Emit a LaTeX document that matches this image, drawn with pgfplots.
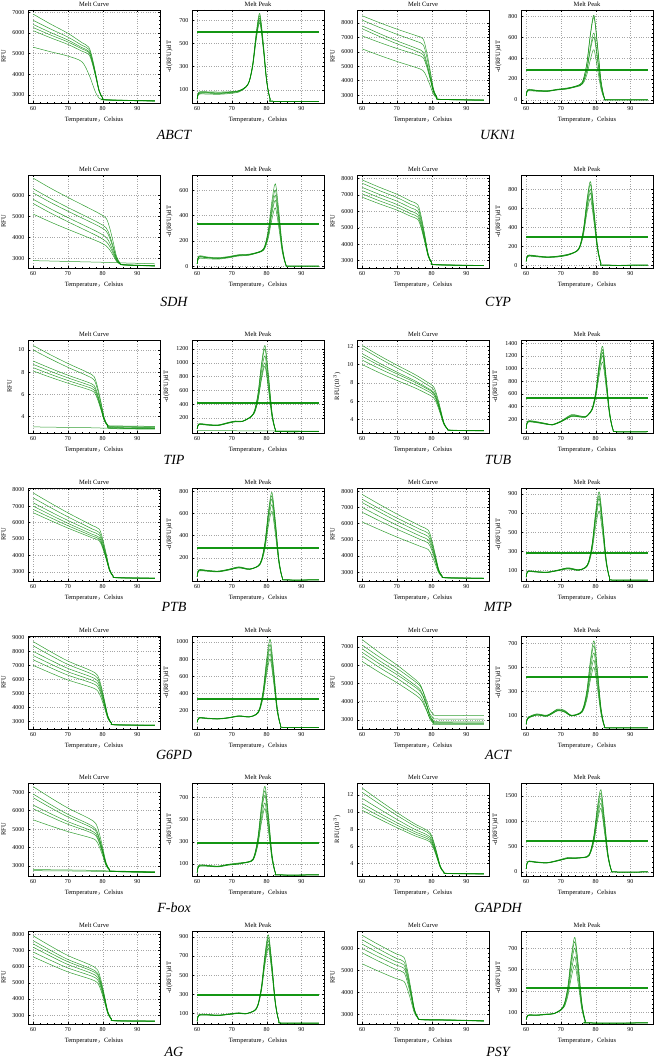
\documentclass[border=0pt]{standalone}
\usepackage{fontspec}
\setmainfont{Liberation Serif}
\newfontfamily\cjk{Noto Sans CJK SC}
\usepackage{pgfplots}
\usepackage{pgfplotstable}
\pgfplotsset{compat=1.18}
\definecolor{pcr}{RGB}{0,135,0}
\definecolor{thrc}{RGB}{20,150,20}

\pgfplotsset{
  base/.style={
    scale only axis, width=132pt, height=93pt, anchor=north west,
    xmin=58.5, xmax=96.5, xtick={60,70,80,90},
    minor x tick num=4, minor y tick num=4,
    tick align=inside, major tick length=2pt, minor tick length=1.1pt,
    grid=major, grid style={dotted, gray!70, line width=0.35pt},
    axis line style={line width=0.6pt},
    every tick/.style={black, line width=0.3pt},
    ticklabel style={font=\fontsize{6}{7}\selectfont},
    title style={font=\fontsize{6.5}{7}\selectfont, inner sep=1pt, yshift=-4pt},
    label style={font=\fontsize{6.5}{7}\selectfont},
    xlabel={Temperature{\cjk ，}Celsius},
    /pgf/number format/1000 sep={},
    /pgf/number format/assume math mode=true,
    scaled y ticks=false,
  },
  mc/.style={base, title={Melt Curve}, ylabel={RFU}},
  mp/.style={base, title={Melt Peak}, ylabel={-d(RFU)/dT}},
  curve/.style={pcr, line width=0.5pt, smooth, tension=0.5, mark=none, opacity=0.8},
  thr/.style={thrc, line width=2pt, mark=none},
}
\newcommand\curves[2]{\pgfplotsinvokeforeach{#2}{\addplot[curve] table[x=x,y=##1]{#1};}}
\newcommand\gene[2]{\node[font=\fontsize{14}{16}\selectfont\itshape] at #1 {#2};}

\begin{document}

% ---------- melt curves ----------
\pgfplotstableread{
x a b c d e f
60 6900 6600 6400 6250 6100 5300
65 6420 6180 6010 5890 5755 5080
70 5972 5788 5646 5554 5433 4870
74 5524 5396 5282 5218 5111 4600
76 5300 5200 5100 5050 4950 4000
77 4790 4710 4630 4590 4510 3550
78 4025 3975 3925 3900 3850 3100
79 3209 3191 3173 3164 3146 2830
80 2852 2848 2844 2842 2838 2760
81 2750 2760 2745 2755 2740 2750
95 2700 2710 2690 2705 2695 2700
}\tABCTmc
\pgfplotstableread{
x a b c d e f
60 8500 8200 7800 7600 7100 6200
65 8020 7690 7260 7060 6650 5750
70 7572 7214 6756 6556 6230 5330
75.5 7124 6738 6252 6052 5810 4910
77.5 6900 6500 6000 5800 5600 4700
78.5 6060 5740 5340 5180 5020 4300
79.5 4800 4600 4350 4250 4150 3700
80.5 3456 3384 3294 3258 3222 3060
81.5 2868 2852 2832 2824 2816 2780
82.5 2700 2710 2695 2705 2700 2690
95 2650 2660 2645 2655 2650 2640
}\tUKNmc
\pgfplotstableread{
x a b c d e f g
60 6800 6300 6100 5800 5600 5100 2900
65 6325 5838 5650 5350 5150 4725 2880
70 5888 5412 5236 4936 4736 4380 2860
75 5470 5005 4840 4540 4340 4050 2840
79 5128 4672 4516 4216 4016 3780 2825
81 4900 4450 4300 4000 3800 3600 2815
82 4460 4100 3980 3740 3580 3420 2810
83 3800 3575 3500 3350 3250 3150 2805
84 3096 3015 2988 2934 2898 2862 2800
85 2788 2770 2764 2752 2744 2736 2795
86 2700 2710 2695 2705 2700 2690 2790
95 2650 2660 2645 2655 2650 2640 2750
}\tSDHmc
\pgfplotstableread{
x a b c d e f
60 7900 7700 7450 7250 7050 6850
65 7450 7250 7015 6815 6630 6445
70 7030 6830 6609 6409 6238 6067
74 6610 6410 6203 6003 5846 5689
76 6400 6200 6000 5800 5650 5500
77 5670 5510 5350 5190 5070 4950
78 4575 4475 4375 4275 4200 4125
79 3407 3371 3335 3299 3272 3245
80 2896 2888 2880 2872 2866 2860
81 2750 2760 2745 2755 2740 2750
95 2700 2710 2690 2705 2695 2700
}\tCYPmc
\pgfplotstableread{
x a b c d e f g
60 10.4 10.0 9.0 8.7 8.4 8.1 3.05
65 9.56 9.19 8.34 8.07 7.8 7.53 3.03
70 8.78 8.43 7.72 7.48 7.24 7.0 3.0
75.5 7.99 7.68 7.11 6.89 6.68 6.47 2.98
77.5 7.6 7.3 6.8 6.6 6.4 6.2 2.97
78.5 6.68 6.44 6.04 5.88 5.72 5.56 2.96
79.5 5.3 5.15 4.9 4.8 4.7 4.6 2.95
80.5 3.83 3.77 3.68 3.65 3.61 3.58 2.95
81.5 3.18 3.2 3.15 3.17 3.22 3.1 2.94
82.5 3.0 3.1 2.95 3.05 3.15 2.9 2.94
95 2.95 3.05 2.9 3.0 3.1 2.85 2.9
}\tTIPmc
\pgfplotstableread{
x a b c d e f
60 12.1 11.8 11.2 10.9 10.5 10.0
65 10.98 10.68 10.15 9.9 9.55 9.1
70 9.94 9.64 9.18 8.98 8.68 8.27
75 8.95 8.65 8.26 8.1 7.84 7.48
78.5 8.14 7.84 7.5 7.38 7.16 6.83
80.5 7.6 7.3 7.0 6.9 6.7 6.4
81.5 6.64 6.4 6.16 6.08 5.92 5.68
82.5 5.2 5.05 4.9 4.85 4.75 4.6
83.5 3.66 3.61 3.56 3.54 3.5 3.45
84.5 2.99 2.98 2.97 2.96 2.96 2.94
85.5 2.8 2.82 2.78 2.81 2.79 2.8
95 2.75 2.77 2.73 2.76 2.74 2.75
}\tTUBmc
\pgfplotstableread{
x a b c d e f
60 7800 7500 7200 7000 6800 6600
65 7184 6912 6654 6468 6296 6124
70 6590 6345 6128 5955 5810 5665
75 6040 5820 5640 5480 5360 5240
77 5820 5610 5445 5290 5180 5070
79 5600 5400 5250 5100 5000 4900
80 5010 4850 4730 4610 4530 4450
81 4125 4025 3950 3875 3825 3775
82 3181 3145 3118 3091 3073 3055
83 2768 2760 2754 2748 2744 2740
84 2650 2660 2645 2655 2640 2650
95 2620 2630 2615 2625 2610 2620
}\tPTBmc
\pgfplotstableread{
x a b c d e f
60 7800 7500 7300 7000 6700 6100
65 7184 6912 6712 6440 6168 5624
70 6590 6345 6145 5900 5655 5165
75 6040 5820 5620 5400 5180 4740
77 5820 5610 5410 5200 4990 4570
79 5600 5400 5200 5000 4800 4400
80 5010 4850 4690 4530 4370 4050
81 4125 4025 3925 3825 3725 3525
82 3181 3145 3109 3073 3037 2965
83 2768 2760 2752 2744 2736 2720
84 2650 2660 2645 2655 2640 2650
95 2620 2630 2615 2625 2610 2620
}\tMTPmc
\pgfplotstableread{
x a b c d e f
60 8700 8400 8000 7700 7400 7000
65 7980 7710 7370 7100 6830 6460
70 7308 7066 6782 6540 6298 5956
76.5 6636 6422 6194 5980 5766 5452
78.5 6300 6100 5900 5700 5500 5200
79.5 5590 5430 5270 5110 4950 4710
80.5 4525 4425 4325 4225 4125 3975
81.5 3389 3353 3317 3281 3245 3191
82.5 2892 2884 2876 2868 2860 2848
83.5 2750 2760 2745 2755 2740 2750
95 2720 2730 2715 2725 2710 2720
}\tGPDmc
\pgfplotstableread{
x a b c d e f
60 7400 7100 6900 6700 6500 6200
65 6680 6440 6240 6070 5870 5600
70 6008 5824 5624 5482 5282 5040
74.5 5336 5208 5008 4894 4694 4480
76.5 5000 4900 4700 4600 4400 4200
77.5 4560 4570 4340 4290 4070 3930
78.5 3900 4075 3800 3825 3575 3525
79.5 3196 3547 3224 3329 3047 3093
80.5 2888 3316 2972 3112 2816 2904
81.5 2800 3250 2900 3050 2750 2850
95 2790 3240 2890 3040 2740 2840
}\tACTmc
\pgfplotstableread{
x a b c d e f g h
60 7300 6900 6700 6300 6100 5500 2800 2740
65 6700 6330 6160 5835 5665 5170 2790 2732
70 6140 5798 5656 5401 5259 4862 2780 2725
76 5580 5266 5152 4967 4853 4554 2760 2710
78 5300 5000 4900 4750 4650 4400 2750 2705
79 4780 4540 4460 4340 4260 4060 2745 2700
80 4000 3850 3800 3725 3675 3550 2740 2698
81 3168 3114 3096 3069 3051 3006 2735 2695
82 2804 2792 2788 2782 2778 2768 2730 2692
83 2700 2710 2695 2705 2690 2700 2725 2690
95 2660 2670 2655 2665 2650 2660 2670 2640
}\tFBOXmc
\pgfplotstableread{
x a b c d e f
60 12.8 12.3 11.6 11.0 10.6 10.2
65 11.34 10.93 10.34 9.85 9.51 9.16
70 9.94 9.6 9.13 8.75 8.46 8.17
75 8.64 8.38 8.0 7.72 7.48 7.24
77.5 8.12 7.89 7.55 7.31 7.09 6.87
79.5 7.6 7.4 7.1 6.9 6.7 6.5
80.5 6.64 6.48 6.24 6.08 5.92 5.76
81.5 5.2 5.1 4.95 4.85 4.75 4.65
82.5 3.66 3.63 3.57 3.54 3.5 3.47
83.5 2.99 2.98 2.97 2.96 2.96 2.95
84.5 2.8 2.82 2.78 2.81 2.79 2.8
95 2.75 2.77 2.73 2.76 2.74 2.75
}\tGAPDHmc
\pgfplotstableread{
x a b c d e f
60 7900 7600 7400 7200 6900 6600
65 7270 7000 6830 6645 6390 6120
70 6682 6440 6298 6127 5914 5672
76.5 6094 5880 5766 5609 5438 5224
78.5 5800 5600 5500 5350 5200 5000
79.5 5170 5010 4930 4810 4690 4530
80.5 4225 4125 4075 4000 3925 3825
81.5 3217 3181 3163 3136 3109 3073
82.5 2776 2768 2764 2758 2752 2744
83.5 2650 2660 2645 2655 2640 2650
95 2630 2640 2625 2635 2620 2630
}\tAGmc
\pgfplotstableread{
x a b c d e f
60 6600 6400 6200 6000 5800 5300
64 6240 6040 5858 5676 5476 5012
68 5900 5700 5535 5370 5170 4740
70 5740 5540 5383 5226 5026 4612
72 5600 5400 5250 5100 4900 4500
73 5030 4870 4750 4630 4470 4150
74 4175 4075 4000 3925 3825 3625
75 3263 3227 3200 3173 3137 3065
76 2864 2856 2850 2844 2836 2820
77 2750 2760 2745 2755 2740 2750
85 2730 2740 2725 2735 2720 2730
95 2690 2700 2685 2695 2680 2690
}\tPSYmc

% ---------- melt peaks ----------
\pgfplotstableread{
x a b c d e
60 20 20 25 15 20
60.5 75 65 80 60 70
63 78 70 82 62 74
66 72 66 80 60 70
69 78 72 82 66 76
72 90 85 92 80 88
74 126 124 125 120 123
75 179 175 174 172 170
76 331 324 317 310 303
77 595 580 565 550 535
78 760 740 720 700 680
79 512 498 484 470 456
80 185 180 175 170 165
81 20 19 19 18 17
82 0 0 0 0 0
95 0 0 0 0 0
}\tABCTmp
\pgfplotstableread{
x a b c d e
60 40 45 35 40 38
60.5 95 100 85 90 92
63 90 92 82 88 86
66 88 85 80 84 82
69 100 98 95 102 96
72 112 110 105 115 108
75.5 148 147 141 139 134
76.5 203 200 182 178 163
77.5 362 355 302 288 246
78.5 638 623 510 480 390
79.5 810 790 640 600 480
80.5 533 519 414 386 302
81.5 193 188 150 140 110
82.5 21 20 16 14 11
83.5 0 0 0 0 0
95 0 0 0 0 0
}\tUKNmp
\pgfplotstableread{
x a b c d e
60 20 18 22 15 20
60.5 75 70 80 60 72
63 68 65 72 58 66
66 62 60 66 55 62
69 72 70 76 65 70
72 88 85 90 80 84
75 92 90 95 86 90
78.5 122 120 118 117 114
79.5 166 160 155 150 143
80.5 293 275 261 247 226
81.5 513 475 445 415 370
82.5 650 600 560 520 460
83.5 435 400 372 344 302
84.5 158 145 135 125 110
85.5 17 15 14 13 11
86.5 0 0 0 0 0
95 0 0 0 0 0
}\tSDHmp
\pgfplotstableread{
x a b c d e
60 40 45 38 42 36
60.5 100 105 95 102 92
63 95 98 90 96 88
66 85 88 82 86 80
69 92 95 88 94 86
72 110 112 106 115 105
74.5 150 149 147 146 143
75.5 211 208 202 197 190
76.5 386 376 358 344 323
77.5 690 668 630 600 555
78.5 880 850 800 760 700
79.5 582 561 526 498 456
80.5 210 203 190 180 165
81.5 23 22 20 19 17
82.5 0 0 0 0 0
95 0 0 0 0 0
}\tCYPmp
\pgfplotstableread{
x a b c d e
60 40 45 35 40 42
60.5 115 110 105 100 108
63 105 100 96 94 98
66 98 95 90 88 92
69 135 130 126 122 128
71 155 150 146 142 148
73 152 150 148 145 150
75.5 223 221 217 213 211
76.5 308 302 290 278 272
77.5 555 537 502 467 450
78.5 983 945 870 795 758
79.5 1250 1200 1100 1000 950
80.5 829 794 724 654 619
81.5 298 285 260 235 223
82.5 32 31 28 25 23
83.5 0 0 0 0 0
95 0 0 0 0 0
}\tTIPmp
\pgfplotstableread{
x a b c d e
60 50 55 45 50 48
60.5 165 160 150 170 155
63 155 150 142 160 148
66 125 120 115 128 118
67.5 112 110 105 115 108
70 165 160 155 170 158
73 260 250 240 270 245
75 250 242 235 255 238
77 238 232 228 240 230
78 284 282 280 278 274
79 373 367 361 355 343
80 629 611 594 576 541
81 1073 1035 998 960 885
82 1350 1300 1250 1200 1100
83 877 842 807 772 702
84 318 305 293 280 255
85 33 32 30 29 26
86 0 0 0 0 0
95 0 0 0 0 0
}\tTUBmp
\pgfplotstableread{
x a b c d e
60 30 32 28 35 30
60.5 85 90 80 92 82
63 82 84 78 86 80
66 76 78 72 80 74
69 92 95 88 96 90
72 112 115 108 118 110
75 96 98 94 100 96
77.5 128 126 125 123 121
78.5 183 179 176 170 162
79.5 342 331 321 303 282
80.5 618 595 573 535 490
81.5 790 760 730 680 620
82.5 533 512 491 456 414
83.5 193 185 178 165 150
84.5 21 20 19 17 16
85.5 0 0 0 0 0
95 0 0 0 0 0
}\tPTBmp
\pgfplotstableread{
x a b c d e
60 30 32 28 35 30
60.5 90 95 85 92 88
63 86 88 82 87 84
66 80 82 78 84 79
69 100 104 98 102 96
72 125 122 118 128 116
75 106 104 102 108 100
77 133 131 130 128 125
78 198 194 190 184 174
79 387 373 363 345 317
80 715 685 663 625 565
81 920 880 850 800 720
82 624 596 575 540 484
83 225 215 208 195 175
84 25 23 23 21 19
85 0 0 0 0 0
95 0 0 0 0 0
}\tMTPmp
\pgfplotstableread{
x a b c d e
60 60 65 55 62 58
60.5 110 115 105 112 108
63 105 108 100 106 103
66 100 102 96 100 98
69 112 115 108 112 110
72 132 135 128 134 130
75 122 124 120 123 121
77 156 154 152 150 147
78 229 222 216 209 202
79 438 418 400 379 358
80 803 758 720 675 630
81 1030 970 920 860 800
82 687 645 610 568 526
83 248 233 220 205 190
84 27 26 24 22 20
85 0 0 0 0 0
95 0 0 0 0 0
}\tGPDmp
\pgfplotstableread{
x a b c d e
60 30 35 28 32 30
60.5 85 80 75 82 78
63 115 108 105 112 106
66 105 100 95 102 98
69 150 145 140 155 142
71 140 135 130 145 132
73 105 100 98 102 99
75.5 125 123 121 118 116
76.5 174 170 162 155 148
77.5 317 303 282 261 240
78.5 565 535 490 445 400
79.5 720 680 620 560 500
80.5 484 456 414 372 330
81.5 175 165 150 135 120
82.5 19 17 16 14 12
83.5 0 0 0 0 0
95 0 0 0 0 0
}\tACTmp
\pgfplotstableread{
x a b c d e
60 20 22 18 25 20
60.5 80 85 75 88 78
63 82 84 78 86 80
66 76 78 72 80 74
69 92 95 88 96 90
72 102 105 98 108 100
75.5 128 126 125 122 120
76.5 184 179 174 166 160
77.5 345 331 317 293 275
78.5 625 595 565 513 475
79.5 800 760 720 650 600
80.5 540 512 484 435 400
81.5 195 185 175 158 145
82.5 21 20 19 17 15
83.5 0 0 0 0 0
95 0 0 0 0 0
}\tFBOXmp
\pgfplotstableread{
x a b c d e
60 60 65 55 62 58
60.5 205 200 195 210 198
63 195 190 185 198 188
66 182 180 175 185 178
69 225 220 215 230 218
72 275 270 265 285 268
74 272 270 265 280 268
77.5 305 302 298 294 290
78.5 414 406 394 382 370
79.5 730 705 670 635 600
80.5 1278 1225 1150 1075 1000
81.5 1620 1550 1450 1350 1250
82.5 1059 1010 940 870 800
83.5 383 365 340 315 290
84.5 41 39 36 33 30
85.5 0 0 0 0 0
95 0 0 0 0 0
}\tGAPDHmp
\pgfplotstableread{
x a b c d e
60 20 22 18 24 20
60.5 80 85 78 88 82
63 85 88 82 90 84
66 80 82 78 84 79
69 90 94 88 95 90
72 102 105 100 108 102
74 96 98 95 100 96
76.5 133 132 130 129 127
77.5 198 195 191 186 182
78.5 387 377 366 352 338
79.5 715 693 670 640 610
80.5 920 890 860 820 780
81.5 624 603 582 554 526
82.5 225 218 210 200 190
83.5 25 24 23 22 20
84.5 0 0 0 0 0
95 0 0 0 0 0
}\tAGmp
\pgfplotstableread{
x a b c d e
60 30 35 28 32 30
60.5 70 75 68 72 70
63 72 75 70 74 72
66 80 84 78 82 80
68 88 90 86 88 86
70 128 126 124 121 118
71 184 179 172 162 153
72 345 331 310 282 254
73 625 595 550 490 430
74 800 760 700 620 540
75 540 512 470 414 358
76 195 185 170 150 130
77 21 20 18 16 13
78 0 0 0 0 0
95 0 0 0 0 0
}\tPSYmp

\begin{tikzpicture}
\useasboundingbox (0pt,0pt) rectangle (659pt,-1062pt);

% row 1: ABCT, UKN1
\begin{axis}[mc, at={(28pt,-10pt)}, ymin=2600, ymax=7100, ytick={3000,4000,...,7000}]
\curves{\tABCTmc}{a,b,c,d,e,f}
\end{axis}
\begin{axis}[mp, at={(192pt,-10pt)}, ymin=-15, ymax=790, ytick={100,300,500,700}]
\addplot[thr] coordinates {(60,600) (95,600)};
\curves{\tABCTmp}{a,b,c,d,e}
\end{axis}
\begin{axis}[mc, at={(357pt,-10pt)}, ymin=2450, ymax=8900, ytick={3000,4000,...,8000}]
\curves{\tUKNmc}{a,b,c,d,e,f}
\end{axis}
\begin{axis}[mp, at={(521pt,-10pt)}, ymin=-30, ymax=860, ytick={0,200,...,800}]
\addplot[thr] coordinates {(60,290) (95,290)};
\curves{\tUKNmp}{a,b,c,d,e}
\end{axis}
\gene{(174pt,-135pt)}{ABCT}
\gene{(498pt,-135pt)}{UKN1}

% row 2: SDH, CYP
\begin{axis}[mc, at={(28pt,-175pt)}, ymin=2550, ymax=6950, ytick={3000,4000,...,6000}]
\curves{\tSDHmc}{a,b,c,d,e,f,g}
\end{axis}
\begin{axis}[mp, at={(192pt,-175pt)}, ymin=-15, ymax=720, ytick={0,200,400,600}]
\addplot[thr] coordinates {(60,335) (95,335)};
\curves{\tSDHmp}{a,b,c,d,e}
\end{axis}
\begin{axis}[mc, at={(357pt,-175pt)}, ymin=2550, ymax=8200, ytick={3000,4000,...,8000}]
\curves{\tCYPmc}{a,b,c,d,e,f}
\end{axis}
\begin{axis}[mp, at={(521pt,-175pt)}, ymin=-30, ymax=950, ytick={0,200,...,800}]
\addplot[thr] coordinates {(60,300) (95,300)};
\curves{\tCYPmp}{a,b,c,d,e}
\end{axis}
\gene{(174pt,-302pt)}{SDH}
\gene{(498pt,-302pt)}{CYP}

% row 3: TIP, TUB
\begin{axis}[mc, at={(28pt,-340pt)}, ymin=2.5, ymax=10.9, ytick={4,6,8,10}]
\curves{\tTIPmc}{a,b,c,d,e,f,g}
\end{axis}
\begin{axis}[mp, at={(192pt,-340pt)}, ymin=-20, ymax=1330, ytick={200,400,...,1200}]
\addplot[thr] coordinates {(60,420) (95,420)};
\addplot[curve] coordinates {(60,15) (95,8)};
\curves{\tTIPmp}{a,b,c,d,e}
\end{axis}
\begin{axis}[mc, at={(357pt,-340pt)}, ymin=2.5, ymax=12.7, ytick={4,6,...,12}, ylabel={RFU(10$^3$)}]
\curves{\tTUBmc}{a,b,c,d,e,f}
\end{axis}
\begin{axis}[mp, at={(521pt,-340pt)}, ymin=-20, ymax=1450, ytick={200,400,...,1400}]
\addplot[thr] coordinates {(60,540) (95,540)};
\curves{\tTUBmp}{a,b,c,d,e}
\end{axis}
\gene{(174pt,-460pt)}{TIP}
\gene{(498pt,-460pt)}{TUB}

% row 4: PTB, MTP
\begin{axis}[mc, at={(28pt,-488pt)}, ymin=2450, ymax=8100, ytick={3000,4000,...,8000}]
\curves{\tPTBmc}{a,b,c,d,e,f}
\end{axis}
\begin{axis}[mp, at={(192pt,-488pt)}, ymin=-10, ymax=830, ytick={200,400,600,800}]
\addplot[thr] coordinates {(60,290) (95,290)};
\curves{\tPTBmp}{a,b,c,d,e}
\end{axis}
\begin{axis}[mc, at={(357pt,-488pt)}, ymin=2450, ymax=8200, ytick={3000,4000,...,8000}]
\curves{\tMTPmc}{a,b,c,d,e,f}
\end{axis}
\begin{axis}[mp, at={(521pt,-488pt)}, ymin=-10, ymax=960, ytick={100,300,...,900}]
\addplot[thr] coordinates {(60,280) (95,280)};
\curves{\tMTPmp}{a,b,c,d,e}
\end{axis}
\gene{(174pt,-607pt)}{PTB}
\gene{(498pt,-607pt)}{MTP}

% row 5: G6PD, ACT
\begin{axis}[mc, at={(28pt,-636pt)}, ymin=2450, ymax=9100, ytick={3000,4000,...,9000}]
\curves{\tGPDmc}{a,b,c,d,e,f}
\end{axis}
\begin{axis}[mp, at={(192pt,-636pt)}, ymin=-20, ymax=1070, ytick={200,400,...,1000}]
\addplot[thr] coordinates {(60,330) (95,330)};
\curves{\tGPDmp}{a,b,c,d,e}
\end{axis}
\begin{axis}[mc, at={(357pt,-636pt)}, ymin=2500, ymax=7600, ytick={3000,4000,...,7000}]
\curves{\tACTmc}{a,b,c,d,e,f}
\end{axis}
\begin{axis}[mp, at={(521pt,-636pt)}, ymin=-10, ymax=760, ytick={100,300,500,700}]
\addplot[thr] coordinates {(60,420) (95,420)};
\curves{\tACTmp}{a,b,c,d,e}
\end{axis}
\gene{(174pt,-755pt)}{G6PD}
\gene{(498pt,-755pt)}{ACT}

% row 6: F-box, GAPDH
\begin{axis}[mc, at={(28pt,-783pt)}, ymin=2450, ymax=7500, ytick={3000,4000,...,7000}]
\curves{\tFBOXmc}{a,b,c,d,e,f,g,h}
\end{axis}
\begin{axis}[mp, at={(192pt,-783pt)}, ymin=-10, ymax=830, ytick={100,300,500,700}]
\addplot[thr] coordinates {(60,290) (95,290)};
\curves{\tFBOXmp}{a,b,c,d,e}
\end{axis}
\begin{axis}[mc, at={(357pt,-783pt)}, ymin=2.5, ymax=13.4, ytick={4,6,...,12}, ylabel={RFU(10$^3$)}]
\curves{\tGAPDHmc}{a,b,c,d,e,f}
\end{axis}
\begin{axis}[mp, at={(521pt,-783pt)}, ymin=-80, ymax=1750, ytick={0,500,1000,1500}]
\addplot[thr] coordinates {(60,600) (95,600)};
\curves{\tGAPDHmp}{a,b,c,d,e}
\end{axis}
\gene{(174pt,-908pt)}{F-box}
\gene{(498pt,-908pt)}{GAPDH}

% row 7: AG, PSY
\begin{axis}[mc, at={(28pt,-931pt)}, ymin=2450, ymax=8200, ytick={3000,4000,...,8000}]
\curves{\tAGmc}{a,b,c,d,e,f}
\end{axis}
\begin{axis}[mp, at={(192pt,-931pt)}, ymin=-10, ymax=960, ytick={100,300,...,900}]
\addplot[thr] coordinates {(60,290) (95,290)};
\curves{\tAGmp}{a,b,c,d,e}
\end{axis}
\begin{axis}[mc, at={(357pt,-931pt)}, ymin=2550, ymax=6800, ytick={3000,4000,...,6000}]
\curves{\tPSYmc}{a,b,c,d,e,f}
\end{axis}
\begin{axis}[mp, at={(521pt,-931pt)}, ymin=-10, ymax=860, ytick={100,300,500,700}]
\addplot[thr] coordinates {(60,330) (95,330)};
\curves{\tPSYmp}{a,b,c,d,e}
\end{axis}
\gene{(174pt,-1052pt)}{AG}
\gene{(498pt,-1052pt)}{PSY}

\end{tikzpicture}
\end{document}
